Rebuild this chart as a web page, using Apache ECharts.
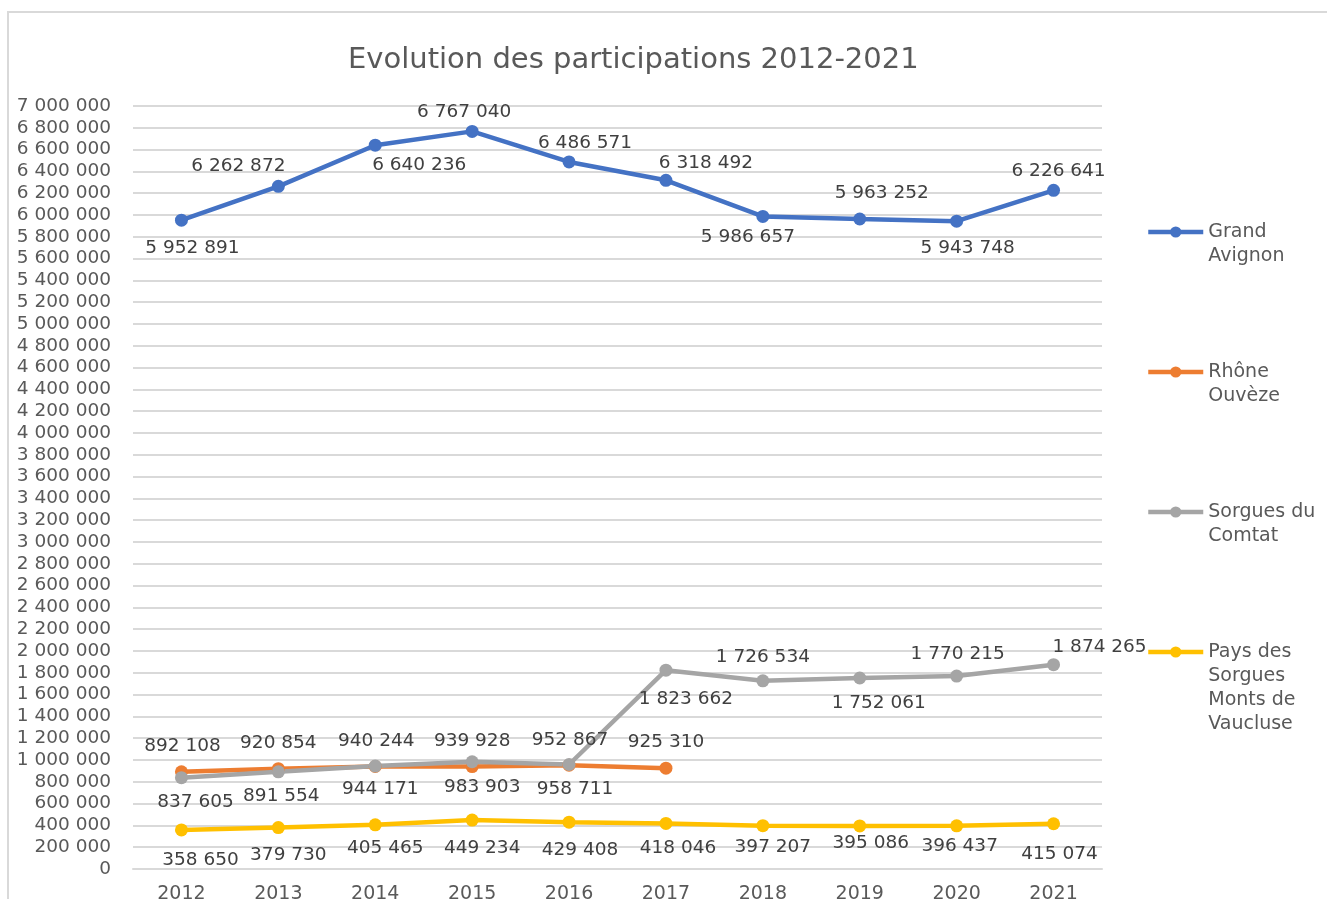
<!DOCTYPE html>
<html>
<head>
<meta charset="utf-8">
<script src="https://cdn.jsdelivr.net/npm/echarts@6/dist/echarts.min.js"></script>
<style>
html,body{margin:0;padding:0;background:#fff;}
#chart{width:1327px;height:899px;}
</style>
</head>
<body>
<div id="chart"></div>
<script>
// ---- Data ----
const categories = ['2012','2013','2014','2015','2016','2017','2018','2019','2020','2021'];
const grandAvignon = [5952891, 6262872, 6640236, 6767040, 6486571, 6318492, 5986657, 5963252, 5943748, 6226641];
const rhoneOuveze = [892108, 920854, 940244, 939928, 952867, 925310];
const sorguesComtat = [837605, 891554, 944171, 983903, 958711, 1823662, 1726534, 1752061, 1770215, 1874265];
const paysSorgues = [358650, 379730, 405465, 449234, 429408, 418046, 397207, 395086, 396437, 415074];
const seriesNames = ['Grand Avignon', 'Rhône Ouvèze', 'Sorgues du Comtat', 'Pays des Sorgues Monts de Vaucluse'];
const legendLabels = ['Grand\nAvignon', 'Rhône\nOuvèze', 'Sorgues du\nComtat', 'Pays des\nSorgues\nMonts de\nVaucluse'];
const titleText = 'Evolution des participations 2012-2021';

// ---- Label placement (layout only) ----
const offsGA = [[11,28],[-40,-20],[44,20],[-8,-19],[16,-19],[40,-17],[-15,21],[22,-26],[11,27],[5,-19]];
const offsRO = [[1,-26],[0,-25],[1,-25],[0,-25],[1,-25],[0,-26]];
const offsSC = [[14,24],[3,24],[5,23],[10,25],[6,25],[20,29],[0,-24],[19,25],[1,-22],[46,-18]];
const offsPS = [[19,30],[10,28],[10,23],[10,28],[11,28],[12,25],[10,21],[11,17],[3,20],[6,30]];

const FONT = 'DejaVu Sans';
const fmt = v => String(v).replace(/\B(?=(\d{3})+(?!\d))/g, ' ');
const colors = ['#4472C4', '#ED7D31', '#A5A5A5', '#FFC000'];

function mkSeries(name, values, offs, color) {
  return {
    name: name,
    type: 'line',
    data: values.map((v, i) => ({ value: v, label: { offset: offs[i] } })),
    symbol: 'circle',
    symbolSize: 13,
    lineStyle: { width: 4.5, color: color },
    itemStyle: { color: color },
    label: {
      show: true,
      position: 'inside',
      fontFamily: FONT,
      fontSize: 18.5,
      color: '#404040',
      formatter: p => fmt(p.value)
    },
    emphasis: { disabled: true },
    animation: false
  };
}

const legendTops = [196, 336, 476, 568];
const legendLines = legendLabels.map(s => s.split('\n').length);

const option = {
  animation: false,
  color: colors,
  title: {
    text: titleText,
    left: 343,
    top: 41,
    textStyle: { fontFamily: FONT, fontSize: 29, fontWeight: 'normal', color: '#595959' }
  },
  graphic: [{
    type: 'rect',
    shape: { x: 8, y: 12, width: 1340, height: 900 },
    style: { fill: 'none', stroke: '#d9d9d9', lineWidth: 2 },
    silent: true
  }],
  legend: seriesNames.map((n, i) => ({
    data: [n],
    orient: 'vertical',
    left: 1146,
    top: legendTops[i],
    padding: 0,
    itemWidth: 55,
    itemHeight: 14,
    selectedMode: false,
    lineStyle: { width: 4.5 },
    formatter: () => '\n'.repeat(legendLines[i] - 1) + legendLabels[i],
    textStyle: {
      fontFamily: FONT,
      fontSize: 19,
      lineHeight: 24,
      color: '#595959'
    }
  })),
  grid: { left: 133, right: 225, top: 106, bottom: 30, containLabel: false, outerBoundsMode: 'none' },
  xAxis: {
    type: 'category',
    data: categories,
    boundaryGap: true,
    axisLine: { show: true, lineStyle: { color: '#d9d9d9', width: 2 } },
    axisTick: { show: false },
    axisLabel: { fontFamily: FONT, fontSize: 19, color: '#595959', margin: 16 }
  },
  yAxis: {
    type: 'value',
    min: 0,
    max: 7000000,
    interval: 200000,
    axisLine: { show: false },
    axisTick: { show: false },
    splitLine: { lineStyle: { color: '#d9d9d9', width: 2 } },
    axisLabel: { fontFamily: FONT, fontSize: 18.5, color: '#595959', margin: 22, formatter: v => fmt(v) }
  },
  series: [
    mkSeries(seriesNames[0], grandAvignon, offsGA, colors[0]),
    mkSeries(seriesNames[1], rhoneOuveze, offsRO, colors[1]),
    mkSeries(seriesNames[2], sorguesComtat, offsSC, colors[2]),
    mkSeries(seriesNames[3], paysSorgues, offsPS, colors[3])
  ]
};

const chart = echarts.init(document.getElementById('chart'), null, { renderer: 'canvas' });
chart.setOption(option);
</script>
</body>
</html>
